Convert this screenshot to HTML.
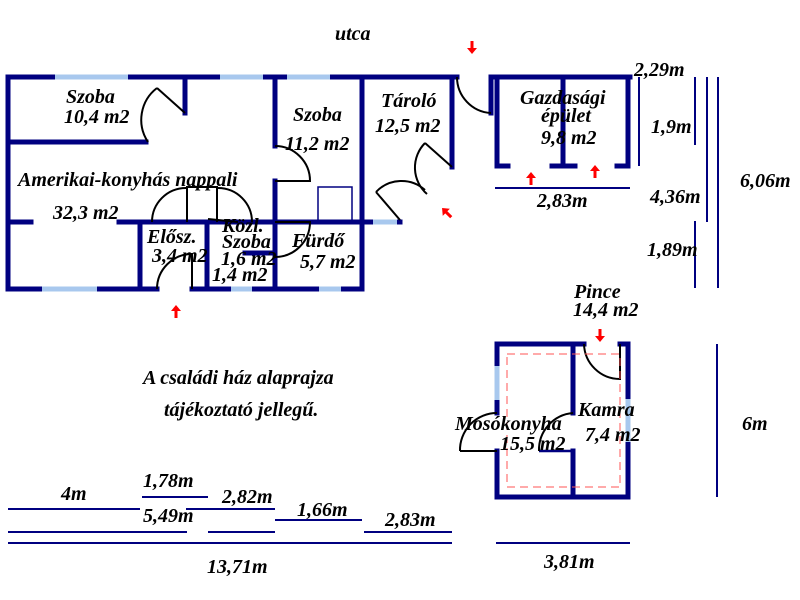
<!DOCTYPE html>
<html><head><meta charset="utf-8"><style>
html,body{margin:0;padding:0;background:#fff;}
svg{display:block}
text{font-family:"Liberation Serif",serif;font-style:italic;font-weight:bold;font-size:20px;fill:#000}
</style></head><body>
<svg width="800" height="600" viewBox="0 0 800 600" xmlns="http://www.w3.org/2000/svg">
<defs>
<g id="ar"><path d="M0,-7 L-5,-1 L-1.5,-1 L-1.5,6 L1.5,6 L1.5,-1 L5,-1 Z" fill="#f00"/></g>
</defs>
<g stroke="#000080" stroke-width="5" fill="none" stroke-linecap="square">
<path d="M8,77 H457"/>
<path d="M8,77 V289 H157"/>
<path d="M192,289 H362"/>
<path d="M362,77 V289"/>
<path d="M452,77 V167"/>
<path d="M8,142 H146"/>
<path d="M185,77 V113"/>
<path d="M275,77 V146"/>
<path d="M275,181 V289"/>
<path d="M8,222 H31"/>
<path d="M119,222 H400"/>
<path d="M140,222 V289"/>
<path d="M207,222 V289"/>
<path d="M245,253 H275"/>
<path d="M491,77 V113"/>
<path d="M493,77 H630"/>
<path d="M497,77 V166 H508"/>
<path d="M563,77 V166"/>
<path d="M552,166 H575"/>
<path d="M628,77 V166 H617"/>
<path d="M497,344 H584"/>
<path d="M620,344 H628 V497 H497 V451"/>
<path d="M497,413 V344"/>
<path d="M573,344 V413"/>
<path d="M573,451 V497"/>
</g>
<g stroke="#000080" stroke-width="2.5" fill="none">
<path d="M539,451 H573"/>
</g>
<g stroke="#a8c8ee" stroke-width="5">
<path d="M55,77 H128 M220,77 H263 M287,77 H330"/>
<path d="M42,289 H97 M231,289 H252 M319,289 H341"/>
<path d="M373,222 H397"/>
<path d="M497,366 V400"/>
<path d="M628,399 V442"/>
</g>
<g stroke="#000" stroke-width="2" fill="none">
<path d="M185,113 L157,88"/>
<path d="M157,88 A40,40 0 0 0 148,142"/>
<path d="M275,146 A35,35 0 0 1 310,181 H275"/>
<path d="M187,222 V187 H217 V222"/>
<path d="M152,222 A34,34 0 0 1 186,188"/>
<path d="M218,188 A34,34 0 0 1 252,222"/>
<path d="M208,219 L238,222"/>
<path d="M275,222 H310 A35,35 0 0 1 275,257"/>
<path d="M157,289 A35,35 0 0 1 192,254 V289"/>
<path d="M452,167 L425,143"/>
<path d="M425,143 A35,35 0 0 0 427,194"/>
<path d="M400,220 L376,192"/>
<path d="M376,192 A35,35 0 0 1 425,190"/>
<path d="M457,77 A36,36 0 0 0 491,113"/>
<path d="M584,344 A36,36 0 0 0 620,379 V344"/>
<path d="M460,451 A37,37 0 0 1 497,413"/>
<path d="M460,451 H497"/>
<path d="M539,451 A37,37 0 0 1 573,413"/>
</g>
<rect x="318" y="187" width="34" height="35" fill="none" stroke="#000080" stroke-width="1.5"/>
<rect x="507" y="354" width="113" height="133" fill="none" stroke="#f55" stroke-width="1" stroke-dasharray="8,5"/>
<g stroke="#000080" stroke-width="2" fill="none">
<path d="M639,77 V166"/>
<path d="M695,77 V145 M707,77 V222 M718,77 V288 M695,221 V288"/>
<path d="M495,188 H630"/>
<path d="M717,344 V497"/>
<path d="M142,497 H208"/>
<path d="M8,509 H140 M186,509 H275"/>
<path d="M275,520 H362"/>
<path d="M8,532 H187 M208,532 H275 M364,532 H452"/>
<path d="M8,543 H452 M496,543 H630"/>
</g>
<use href="#ar" transform="translate(176,312)"/>
<use href="#ar" transform="translate(531,179)"/>
<use href="#ar" transform="translate(595,172)"/>
<use href="#ar" transform="translate(472,47) rotate(180)"/>
<use href="#ar" transform="translate(600,335) rotate(180)"/>
<use href="#ar" transform="translate(447,213) rotate(-45)"/>
<text x="335" y="40">utca</text>
<text x="66" y="103">Szoba</text>
<text x="64" y="123">10,4 m2</text>
<text x="293" y="121">Szoba</text>
<text x="285" y="150">11,2 m2</text>
<text x="381" y="107">Tároló</text>
<text x="375" y="132">12,5 m2</text>
<text x="520" y="104">Gazdasági</text>
<text x="541" y="122">épület</text>
<text x="541" y="144">9,8 m2</text>
<text x="18" y="186">Amerikai-konyhás nappali</text>
<text x="53" y="219">32,3 m2</text>
<text x="147" y="243">Elősz.</text>
<text x="152" y="262">3,4 m2</text>
<text x="222" y="232">Közl.</text>
<text x="222" y="248">Szoba</text>
<text x="221" y="265">1,6 m2</text>
<text x="212" y="281">1,4 m2</text>
<text x="292" y="247">Fürdő</text>
<text x="300" y="268">5,7 m2</text>
<text x="634" y="76">2,29m</text>
<text x="651" y="133">1,9m</text>
<text x="537" y="207">2,83m</text>
<text x="650" y="203">4,36m</text>
<text x="740" y="187">6,06m</text>
<text x="647" y="256">1,89m</text>
<text x="574" y="298">Pince</text>
<text x="573" y="316">14,4 m2</text>
<text x="455" y="430">Mosókonyha</text>
<text x="500" y="450">15,5 m2</text>
<text x="578" y="416">Kamra</text>
<text x="585" y="441">7,4 m2</text>
<text x="742" y="430">6m</text>
<text x="143" y="384">A családi ház alaprajza</text>
<text x="164" y="416">tájékoztató jellegű.</text>
<text x="61" y="500">4m</text>
<text x="143" y="487">1,78m</text>
<text x="222" y="503">2,82m</text>
<text x="143" y="522">5,49m</text>
<text x="297" y="516">1,66m</text>
<text x="385" y="526">2,83m</text>
<text x="207" y="573">13,71m</text>
<text x="544" y="568">3,81m</text>
</svg>
</body></html>
